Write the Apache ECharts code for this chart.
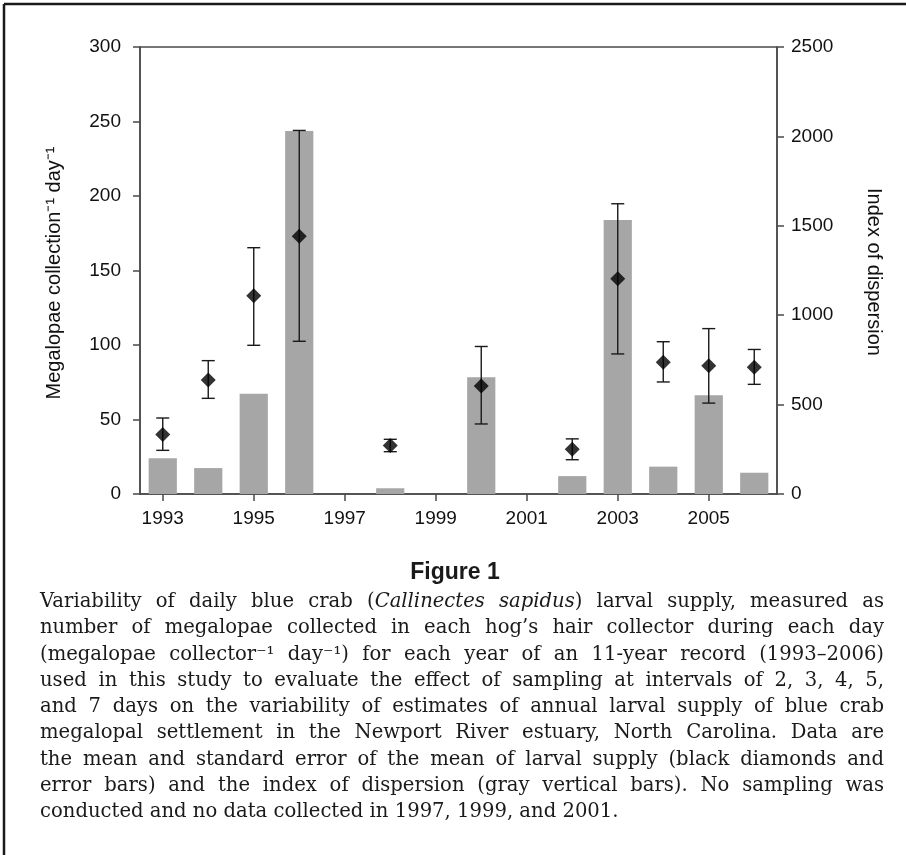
<!DOCTYPE html>
<html>
<head>
<meta charset="utf-8">
<script src="https://cdn.jsdelivr.net/npm/echarts@6/dist/echarts.min.js"></script>
<style>
html,body{margin:0;padding:0;background:#fff;}
#chart{width:906px;height:855px;}
</style>
</head>
<body>
<div id="chart"></div>
<script>
// ---- data ----
const years = ['1993','1994','1995','1996','1997','1998','1999','2000','2001','2002','2003','2004','2005','2006'];
// index of dispersion (gray bars, right axis)
const dispersion = [200, 145, 560, 2030, null, 32, null, 653, null, 100, 1532, 153, 552, 119];
// mean megalopae collector-1 day-1 (black diamonds, left axis)
const meanSupply = [40, 76.5, 133, 173, null, 32.5, null, 72.5, null, 30, 144.5, 88.5, 86, 85];
// mean + SE and mean - SE
const seUpper = [51, 89.5, 165.3, 244, null, 36.7, null, 99, null, 37, 194.8, 102.2, 111, 97];
const seLower = [29.3, 64.2, 99.8, 102.5, null, 28.4, null, 47, null, 23, 94, 75.2, 61, 73.6];
const leftTicks = {min: 0, max: 300, interval: 50};
const rightTicks = {min: 0, max: 2500, interval: 500};

const captionTitle = 'Figure 1';
const captionLines = [
  'Variability of daily blue crab (_Callinectes sapidus_) larval supply, measured as',
  'number of megalopae collected in each hog\u2019s hair collector during each day',
  '(megalopae collector\u207B\u00B9 day\u207B\u00B9) for each year of an 11-year record (1993\u20132006)',
  'used in this study to evaluate the effect of sampling at intervals of 2, 3, 4, 5,',
  'and 7 days on the variability of estimates of annual larval supply of blue crab',
  'megalopal settlement in the Newport River estuary, North Carolina. Data are',
  'the mean and standard error of the mean of larval supply (black diamonds and',
  'error bars) and the index of dispersion (gray vertical bars). No sampling was',
  'conducted and no data collected in 1997, 1999, and 2001.'
];

// ---- caption layout (justified) ----
const CAP_SIZE = 19.6, CAP_FAMILY = 'DejaVu Serif, serif';
const CAP_LEFT = 40, CAP_RIGHT = 884, CAP_TOP = 602, CAP_LH = 26.25;
const mctx = document.createElement('canvas').getContext('2d');
function segWidth(t, it) {
  mctx.font = (it ? 'italic ' : '') + CAP_SIZE + 'px ' + CAP_FAMILY;
  return mctx.measureText(t).width;
}
function parseWords(line) {
  // '_' toggles italic
  let italic = false;
  return line.split(' ').map(w => {
    const segs = [];
    let cur = '';
    for (const ch of w) {
      if (ch === '_') { if (cur) segs.push({t: cur, it: italic}); cur = ''; italic = !italic; }
      else cur += ch;
    }
    if (cur) segs.push({t: cur, it: italic});
    const width = segs.reduce((s, g) => s + segWidth(g.t, g.it), 0);
    return {segs, width};
  });
}
const captionGraphics = [];
captionLines.forEach((line, li) => {
  const words = parseWords(line);
  const total = words.reduce((s, w) => s + w.width, 0);
  const last = li === captionLines.length - 1;
  const gap = last ? segWidth(' ', false) : (CAP_RIGHT - CAP_LEFT - total) / (words.length - 1);
  let x = CAP_LEFT;
  const y = CAP_TOP + li * CAP_LH;
  words.forEach(w => {
    w.segs.forEach(g => {
      captionGraphics.push({
        type: 'text', x: x, y: y, silent: true,
        style: {text: g.t, fontSize: CAP_SIZE, fontFamily: CAP_FAMILY, fontStyle: g.it ? 'italic' : 'normal',
                fill: '#1a1a1a', textVerticalAlign: 'middle', textAlign: 'left'}
      });
      x += segWidth(g.t, g.it);
    });
    x += gap;
  });
});

const AX = '#4a4a4a';
const TXT = '#111';
const FONT = 'Liberation Sans, Arial, sans-serif';

const chart = echarts.init(document.getElementById('chart'), null, {renderer: 'canvas'});
chart.setOption({
  backgroundColor: '#fff',
  animation: false,
  grid: {left: 140, right: 129, top: 47, bottom: 361, show: true, borderColor: AX, borderWidth: 1.5, containLabel: false},
  xAxis: {
    type: 'category', data: years, boundaryGap: true,
    axisLine: {lineStyle: {color: AX, width: 1.5}},
    axisTick: {show: true, alignWithLabel: true, interval: 1, length: 7, lineStyle: {color: AX, width: 1.5}},
    axisLabel: {interval: 1, margin: 15, color: TXT, fontSize: 19, fontFamily: FONT},
    splitLine: {show: false}
  },
  yAxis: [
    {type: 'value', min: leftTicks.min, max: leftTicks.max, interval: leftTicks.interval, position: 'left',
     axisLine: {show: true, lineStyle: {color: AX, width: 1.5}},
     axisTick: {show: true, length: 7, lineStyle: {color: AX, width: 1.5}},
     axisLabel: {margin: 19, color: TXT, fontSize: 19, fontFamily: FONT, formatter: v => String(v)},
     splitLine: {show: false}},
    {type: 'value', min: rightTicks.min, max: rightTicks.max, interval: rightTicks.interval, position: 'right',
     axisLine: {show: true, lineStyle: {color: AX, width: 1.5}},
     axisTick: {show: true, length: 7, lineStyle: {color: AX, width: 1.5}},
     axisLabel: {margin: 14, color: TXT, fontSize: 19, fontFamily: FONT, formatter: v => String(v)},
     splitLine: {show: false}}
  ],
  series: [
    {type: 'bar', name: 'Index of dispersion', yAxisIndex: 1, data: dispersion, barWidth: '62%',
     itemStyle: {color: '#a6a6a6'}, z: 1},
    {type: 'custom', name: 'SE', yAxisIndex: 0, z: 3,
     data: years.map((y, i) => seUpper[i] == null ? null : [i, seUpper[i], seLower[i]]).filter(d => d),
     renderItem: function (params, api) {
       const x = api.value(0);
       const top = api.coord([x, api.value(1)]);
       const bot = api.coord([x, api.value(2)]);
       const hw = 6.5;
       const st = {stroke: '#1a1a1a', lineWidth: 1.4};
       return {type: 'group', children: [
         {type: 'line', shape: {x1: top[0], y1: top[1], x2: bot[0], y2: bot[1]}, style: st},
         {type: 'line', shape: {x1: top[0] - hw, y1: top[1], x2: top[0] + hw, y2: top[1]}, style: st},
         {type: 'line', shape: {x1: bot[0] - hw, y1: bot[1], x2: bot[0] + hw, y2: bot[1]}, style: st}
       ]};
     }},
    {type: 'scatter', name: 'Mean', yAxisIndex: 0, z: 4, symbol: 'diamond', symbolSize: 15,
     data: meanSupply.map(v => v == null ? '-' : v), itemStyle: {color: '#000'}}
  ],
  graphic: [
    {type: 'line', silent: true, shape: {x1: 4, y1: 4, x2: 906, y2: 4}, style: {stroke: '#1a1a1a', lineWidth: 2.5}},
    {type: 'line', silent: true, shape: {x1: 4, y1: 4, x2: 4, y2: 855}, style: {stroke: '#1a1a1a', lineWidth: 2.5}},
    {type: 'text', x: 54, y: 273, rotation: Math.PI / 2, silent: true,
     style: {text: 'Megalopae collection\u207B\u00B9 day\u207B\u00B9', fontSize: 20, fontFamily: FONT, fill: TXT,
             textAlign: 'center', textVerticalAlign: 'middle'}},
    {type: 'text', x: 874, y: 272, rotation: -Math.PI / 2, silent: true,
     style: {text: 'Index of dispersion', fontSize: 20, fontFamily: FONT, fill: TXT,
             textAlign: 'center', textVerticalAlign: 'middle'}},
    {type: 'text', x: 455, y: 573, silent: true,
     style: {text: captionTitle, fontSize: 23, fontWeight: 'bold', fontFamily: FONT, fill: '#1a1a1a',
             textAlign: 'center', textVerticalAlign: 'middle'}}
  ].concat(captionGraphics)
});
</script>
</body>
</html>
